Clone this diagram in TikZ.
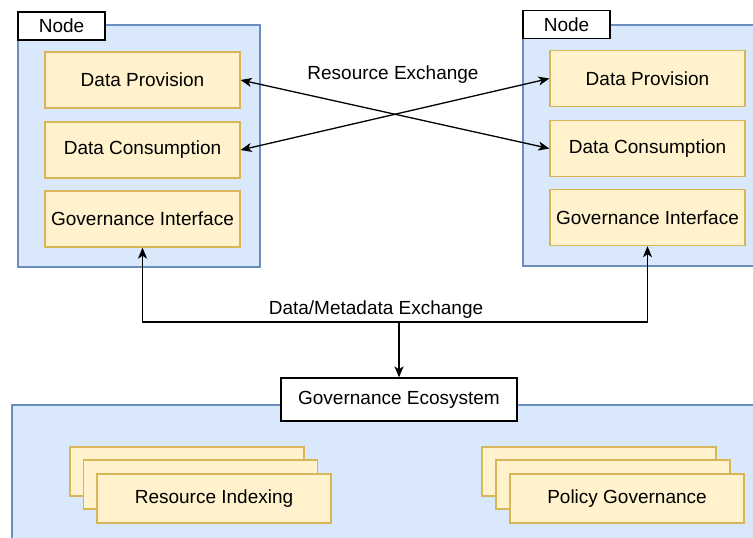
\documentclass[tikz,border=0pt]{standalone}
\usepackage{fontspec}
\setmainfont{Liberation Sans}
\usepackage{xcolor}
\usetikzlibrary{positioning, arrows.meta}

\definecolor{paleblue}{HTML}{DAE8FC}
\definecolor{edgeblue}{HTML}{6C8EBF}
\definecolor{paleyellow}{HTML}{FFF2CC}
\definecolor{edgeyellow}{HTML}{D6B656}

\begin{document}
\begin{tikzpicture}[x=1pt, y=-1pt,
    container/.style={rectangle, draw=edgeblue, fill=paleblue, line width=1.3pt, inner sep=0pt},
    part/.style={rectangle, draw=edgeyellow, fill=paleyellow, line width=1.3pt, minimum width=195pt, minimum height=56pt, font=\fontsize{19}{23}\selectfont},
    stackpart/.style={part, minimum width=234pt, minimum height=49pt},
    tag/.style={rectangle, draw=black, fill=white, line width=1.3pt, font=\fontsize{19}{23}\selectfont},
    arr/.style={line width=1.3pt, -{Stealth[length=11pt, width=9pt, inset=3pt]}},
    darr/.style={line width=1.3pt, {Stealth[length=11pt, width=9pt, inset=3pt]}-{Stealth[length=11pt, width=9pt, inset=3pt]}}]
                \useasboundingbox (0, 0) rectangle (753, 538);
                \clip (0, 0) rectangle (753, 538);

                % left node
                \node[container, minimum width=242pt, minimum height=242pt] (left) at (139, 146) {};
                \node[tag, minimum width=87pt, minimum height=28pt] (lefttag) at (61.5, 26) {Node};
                \node[part] (dp1) at (142.5, 80) {Data Provision};
                \node[part] (dc1) at (142.5, 150) {Data Consumption};
                \node[part] (gi1) at (142.5, 219) {Governance Interface};

                % right node
                \node[container, minimum width=242pt, minimum height=241pt] (right) at (644, 145.5) {};
                \node[tag, minimum width=87pt, minimum height=28pt] (righttag) at (566.5, 24.5) {Node};
                \node[part] (dp2) at (647.5, 78.5) {Data Provision};
                \node[part] (dc2) at (647.5, 148.5) {Data Consumption};
                \node[part] (gi2) at (647.5, 217.5) {Governance Interface};

                % governance ecosystem
                \node[container, minimum width=760pt, minimum height=160pt] (eco) at (392, 485) {};
                \node[tag, minimum width=236pt, minimum height=43pt] (ecotag) at (399, 399.5) {Governance Ecosystem};
                \node[stackpart] (ri3) at (187, 471.5) {};
                \node[stackpart] (ri2) at (200.5, 484.5) {};
                \node[stackpart] (ri1) at (214, 498.5) {Resource Indexing};
                \node[stackpart] (pg3) at (599, 471.5) {};
                \node[stackpart] (pg2) at (613, 484.5) {};
                \node[stackpart] (pg1) at (627, 498.5) {Policy Governance};

                % resource exchange
                \draw[darr] (dp1.east) -- (dc2.west);
                \draw[darr] (dc1.east) -- (dp2.west);
                \node[font=\fontsize{19}{23}\selectfont] (resx) at (393, 75) {Resource Exchange};

                % data/metadata exchange
                \coordinate (junc) at (399, 322);
                \draw[arr] (junc) -| (gi1.south);
                \draw[arr] (junc) -| (gi2.south);
                \draw[arr] (junc) -- (ecotag.north);
                \node[font=\fontsize{19}{23}\selectfont] (metax) at (376, 310) {Data/Metadata Exchange};
            \end{tikzpicture}
\end{document}
